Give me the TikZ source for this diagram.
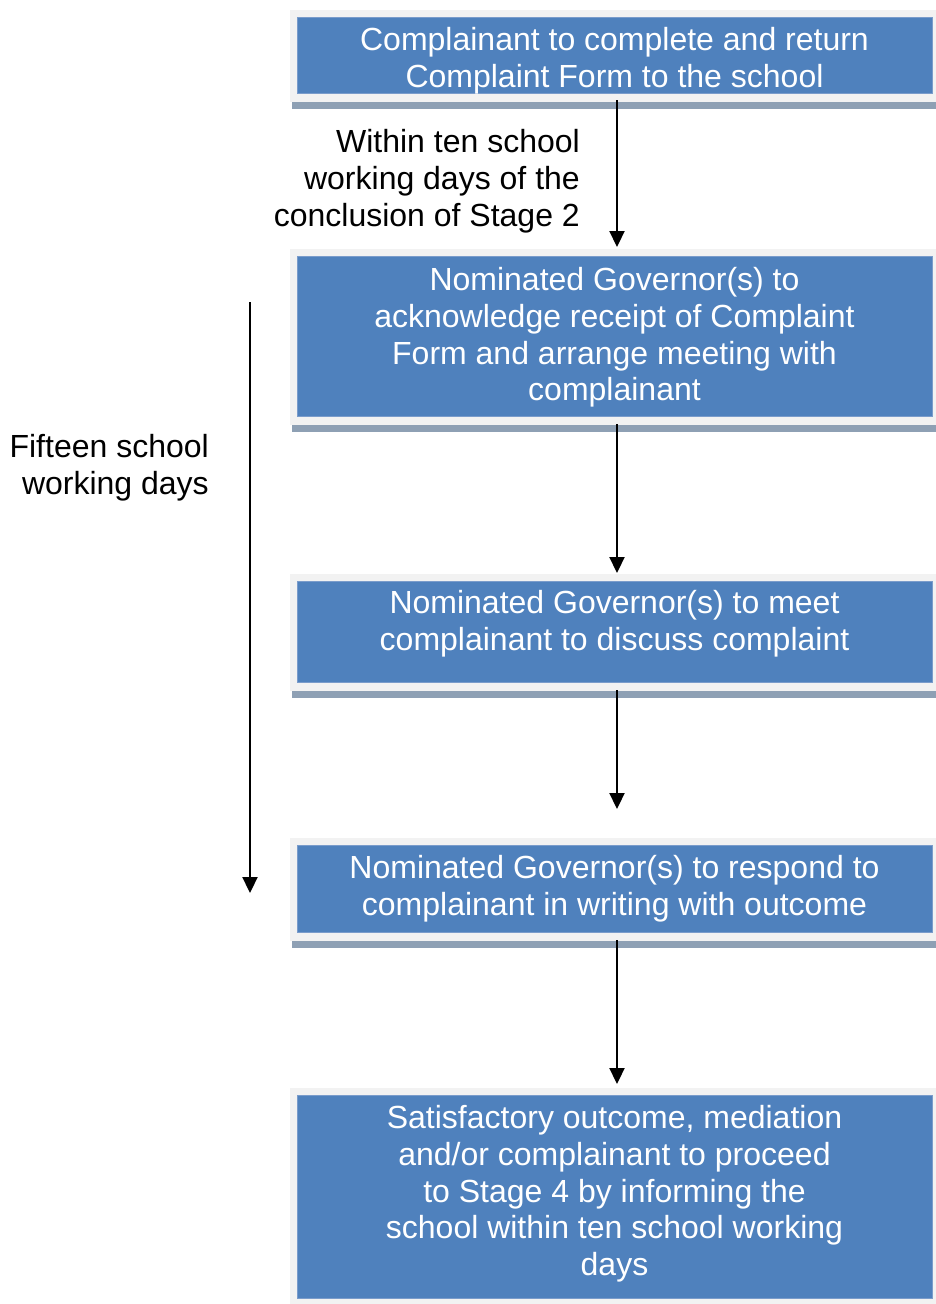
\documentclass[tikz,border=0pt]{standalone}
\usepackage{fontspec}
\setmainfont{Liberation Sans}
\usetikzlibrary{arrows.meta,backgrounds}
\definecolor{boxblue}{HTML}{4F81BD}
\definecolor{boxedge}{HTML}{7A9CCB}
\definecolor{framegray}{HTML}{F2F2F2}
\definecolor{shadowgray}{HTML}{8EA0B4}
\newcommand{\myfont}{\fontsize{32pt}{36.8pt}\selectfont}
% #1 box height, #2 baseline offset of first line, #3 text
\newcommand{\boxtext}[3]{\parbox[c][#1][t]{600pt}{\centering\myfont\rule{0pt}{#2}#3}}
\tikzset{
  stepbox/.style={fill=boxblue, draw=boxedge, line width=0.8pt, text=white,
    anchor=north, inner xsep=17.5pt, inner ysep=0pt},
  lbl/.style={align=right, inner sep=0pt, font=\myfont},
  flow/.style={line width=2.2pt, -{Triangle[width=15pt,length=16pt]}}
}
% gray frame and shadow bar around a node
\newcommand{\myframe}[1]{%
  \fill[shadowgray] ([xshift=-5pt,yshift=-8pt]#1.south west) rectangle ([xshift=4pt,yshift=-15pt]#1.south east);
  \fill[framegray] ([xshift=-7pt,yshift=7pt]#1.north west) rectangle ([xshift=4pt,yshift=-8pt]#1.south east);
}
\begin{document}
\begin{tikzpicture}[x=1pt,y=-1pt]
\useasboundingbox (0,0) rectangle (936,1304);
\node[stepbox] (b1) at (614.5,17) {\boxtext{76pt}{33pt}{Complainant to complete and return\\Complaint Form to the school}};
\node[stepbox] (b2) at (614.5,256) {\boxtext{160pt}{34pt}{Nominated Governor(s) to\\acknowledge receipt of Complaint\\Form and arrange meeting with\\complainant}};
\node[stepbox] (b3) at (614.5,581) {\boxtext{101pt}{32pt}{Nominated Governor(s) to meet\\complainant to discuss complaint}};
\node[stepbox] (b4) at (614.5,845) {\boxtext{87pt}{33pt}{Nominated Governor(s) to respond to\\complainant in writing with outcome}};
\node[stepbox] (b5) at (614.5,1095) {\boxtext{203pt}{33pt}{Satisfactory outcome, mediation\\and/or complainant to proceed\\to Stage 4 by informing the\\school within ten school working\\days}};
\begin{scope}[on background layer]
\myframe{b1}
\myframe{b2}
\myframe{b3}
\myframe{b4}
\fill[framegray] ([xshift=-7pt,yshift=7pt]b5.north west) rectangle ([xshift=4pt,yshift=-8pt]b5.south east);
\end{scope}
% arrows
\coordinate (a1s) at (617,100);
\coordinate (a1e) at (617,247);
\coordinate (a2s) at (617,424);
\coordinate (a2e) at (617,573);
\coordinate (a3s) at (617,690);
\coordinate (a3e) at (617,809);
\coordinate (a4s) at (617,940);
\coordinate (a4e) at (617,1084);
\coordinate (ls) at (250,302);
\coordinate (le) at (250,893);
\draw[flow] (a1s) -- (a1e);
\draw[flow] (a2s) -- (a2e);
\draw[flow] (a3s) -- (a3e);
\draw[flow] (a4s) -- (a4e);
\draw[flow] (ls) -- (le);
\node[lbl, anchor=east] (t1) at (580,181.5) {Within ten school\\working days of the\\conclusion of Stage 2};
\node[lbl, anchor=east] (t2) at (209,467.5) {Fifteen school\\working days};
\end{tikzpicture}
\end{document}
